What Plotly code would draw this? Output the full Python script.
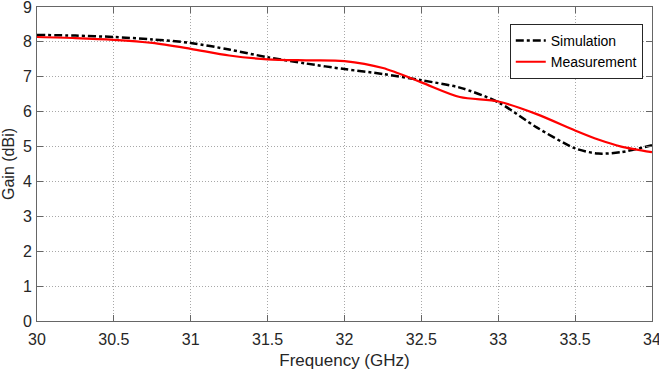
import plotly.graph_objects as go

freq = [30, 30.25, 30.5, 30.75, 31, 31.25, 31.5, 31.75, 32, 32.25, 32.5, 32.75, 33, 33.25, 33.5, 33.65, 33.8, 34]
sim_gain = [8.2, 8.18, 8.14, 8.07, 7.97, 7.78, 7.56, 7.38, 7.22, 7.08, 6.9, 6.69, 6.27, 5.55, 4.95, 4.8, 4.84, 5.04]
meas_gain = [8.14, 8.11, 8.06, 7.97, 7.8, 7.61, 7.5, 7.47, 7.45, 7.25, 6.84, 6.42, 6.29, 5.93, 5.46, 5.2, 5.0, 4.84]

x_ticks = [30, 30.5, 31, 31.5, 32, 32.5, 33, 33.5, 34]
x_tick_text = ["30", "30.5", "31", "31.5", "32", "32.5", "33", "33.5", "34"]
y_ticks = list(range(0, 10))

fig = go.Figure()
fig.add_trace(go.Scatter(x=freq, y=sim_gain, mode="lines", name="Simulation",
                         line=dict(color="black", width=2.5, dash="8px,3px,3px,3px", shape="spline", smoothing=0.8)))
fig.add_trace(go.Scatter(x=freq, y=meas_gain, mode="lines", name="Measurement",
                         line=dict(color="#ff0000", width=2.2, shape="spline", smoothing=0.8)))

axis_common = dict(showline=True, linecolor="#666666", linewidth=1, mirror="ticks",
                   ticks="inside", ticklen=6, tickcolor="#666666",
                   showgrid=True, gridcolor="#a8a8a8", griddash="1px,2px", gridwidth=1,
                   zeroline=False, ticklabeloverflow="allow", automargin=False,
                   tickfont=dict(family="Liberation Sans, Arial", size=16, color="#262626"))

fig.update_layout(
    width=659, height=371,
    margin=dict(l=37, r=7, t=7, b=50),
    paper_bgcolor="white", plot_bgcolor="white",
    font=dict(family="Liberation Sans, Arial", color="#262626"),
    xaxis=dict(range=[30, 34], tickvals=x_ticks, ticktext=x_tick_text, ticklabelstandoff=4,
               title=dict(text="Frequency (GHz)", font=dict(size=17), standoff=6), **axis_common),
    yaxis=dict(range=[0, 9], tickvals=y_ticks, ticklabelstandoff=1,
               title=dict(text="Gain (dBi)", font=dict(size=16), standoff=6), **axis_common),
    legend=dict(x=0.985, y=0.946, xanchor="right", yanchor="top",
                bordercolor="#262626", borderwidth=1, bgcolor="white",
                font=dict(size=14, color="#000000"), tracegroupgap=0,
                itemwidth=30),
    showlegend=True,
)

fig.write_html("out.html")
